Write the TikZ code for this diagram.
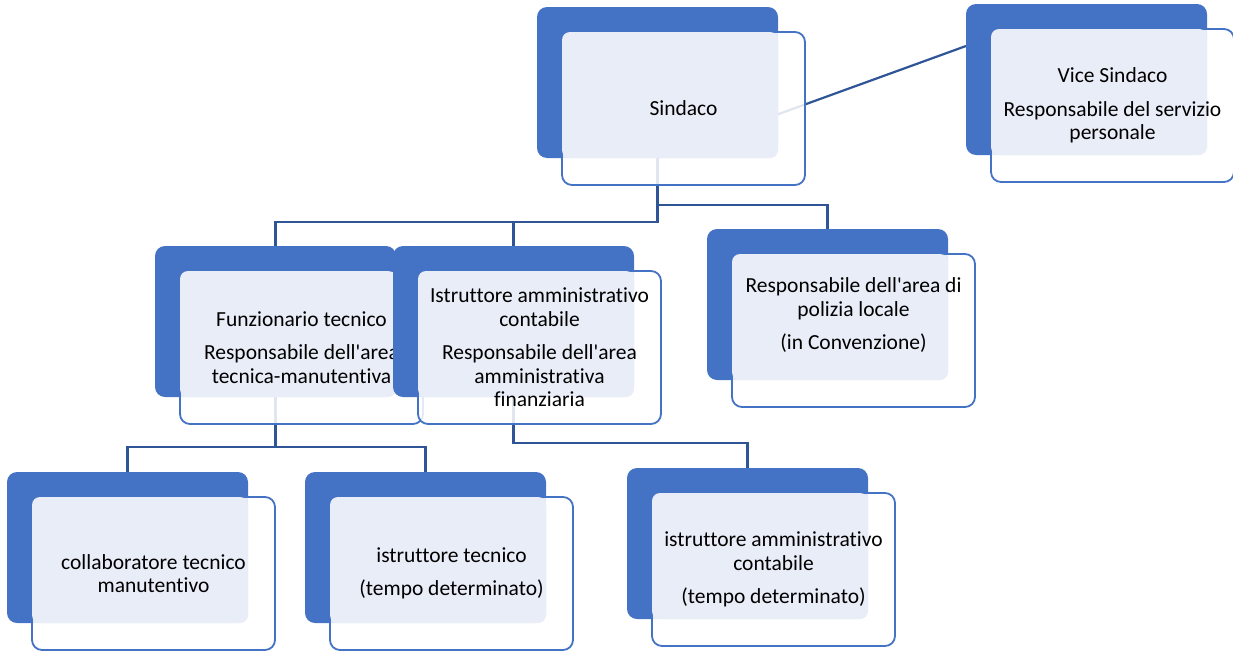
\documentclass[tikz,border=0pt]{standalone}
\usepackage{fontspec}
\setmainfont{Carlito}[Ligatures={TeXOff,NoCommon,NoContextual}]
\usetikzlibrary{calc}
\definecolor{bblue}{HTML}{4472C4}
\definecolor{lfill}{HTML}{E9EDF7}
\definecolor{cblue}{HTML}{2F5597}
\pgfdeclarelayer{bg}
\pgfsetlayers{bg,main}
\tikzset{
  backbox/.style={draw=none, fill=bblue, rounded corners=10pt, minimum width=241pt, minimum height=151pt, inner sep=0pt, outer sep=0pt, anchor=north west},
  frontbox/.style={draw=bblue, line width=1.8pt, fill=white, fill opacity=0.85, draw opacity=1, rounded corners=10pt, minimum width=243pt, minimum height=153pt, inner sep=0pt, outer sep=0pt, anchor=north west},
  lightbox/.style={fill=lfill, rounded corners=8pt},
  txt/.style={align=center, font=\fontsize{21.5}{23.5}\selectfont, text=black, inner sep=0pt},
  conn/.style={draw=cblue, line width=2.2pt},
}
\newcommand\orgunit[5]{%
  \node[backbox] (#1-b) at (#2,#3) {};
  \node[frontbox] (#1) at ($(#2,#3)+(25,25)$) {};
  \fill[lightbox] ($(#2,#3)+(25,25)$) rectangle ($(#2,#3)+(241,151)$);
  \node[txt] (#1-t) at ($(#1.center)+(0,#5)$) {#4};
}
\begin{document}
\begin{tikzpicture}[x=1pt,y=-1pt]
\useasboundingbox (0,0) rectangle (1233,653);
\orgunit{sindaco}{537}{7}{Sindaco}{0}
\orgunit{vice}{966}{4}{Vice Sindaco\\[10pt] Responsabile del servizio\\ personale}{0}
\orgunit{funz}{155}{246}{Funzionario tecnico\\[10pt] Responsabile dell'area\\ tecnica-manutentiva}{0}
\orgunit{istr}{393}{246}{Istruttore amministrativo\\ contabile\\[10pt] Responsabile dell'area\\ amministrativa\\ finanziaria}{0}
\orgunit{polizia}{707}{229}{Responsabile dell'area di\\ polizia locale\\[10pt] (in Convenzione)}{-15}
\orgunit{collab}{7}{472}{collaboratore tecnico\\ manutentivo}{0}
\orgunit{istrtec}{305}{472}{istruttore tecnico\\[10pt] (tempo determinato)}{0}
\orgunit{istrtd}{627}{468}{istruttore amministrativo\\ contabile\\[10pt] (tempo determinato)}{0}
\begin{pgfonlayer}{bg}
  \coordinate (v-in) at ($(vice-b.north west)+(0,42)$);
  \draw[conn] (sindaco-b.south) -- (v-in);
  \draw[conn] (sindaco-b.south) -- ++(0,47) -| (polizia-b.north);
  \draw[conn] (sindaco-b.south) -- ++(0,64) -| (funz-b.north);
  \draw[conn] (sindaco-b.south) ++(0,64) -| (istr-b.north);
  \draw[conn] (funz-b.south) -- ++(0,50) -| (collab-b.north);
  \draw[conn] (funz-b.south) ++(0,50) -| (istrtec-b.north);
  \draw[conn] (istr-b.south) -- ++(0,46) -| (istrtd-b.north);
\end{pgfonlayer}
\end{tikzpicture}
\end{document}
